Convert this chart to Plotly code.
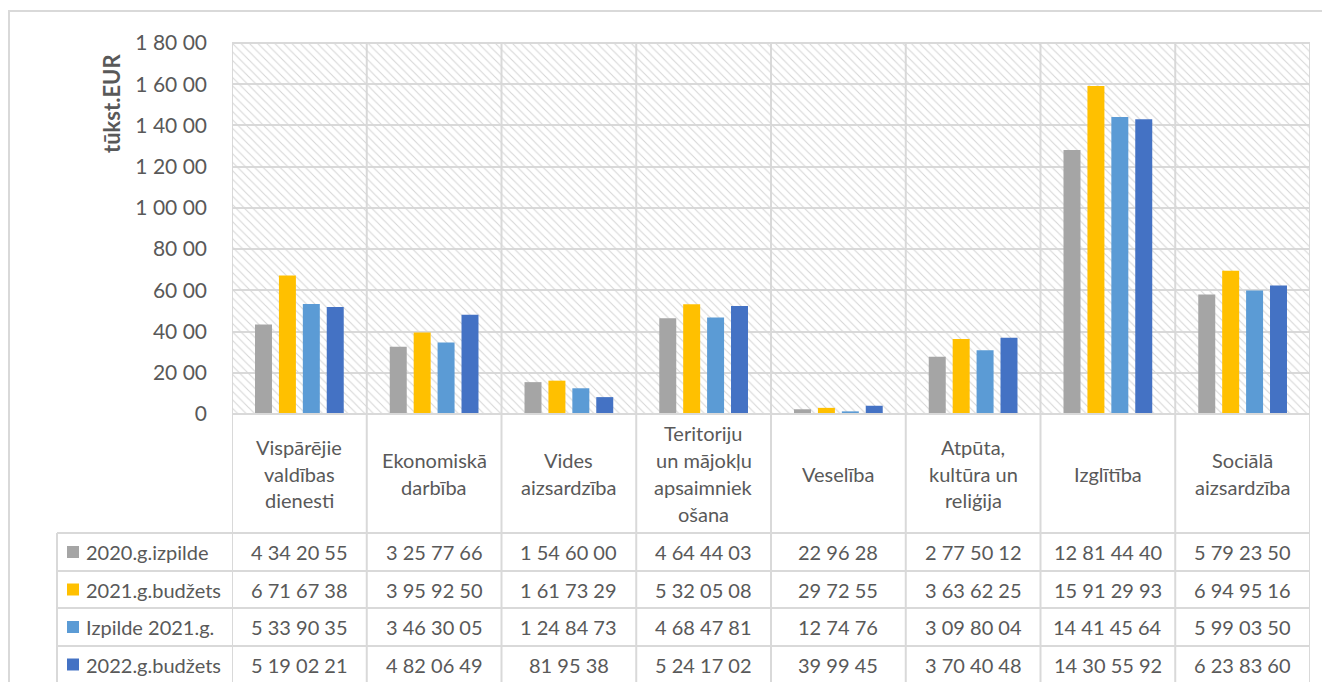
import plotly.graph_objects as go

# ---------------- data ----------------
categories = [
    ["Vispārējie", "valdības", "dienesti"],
    ["Ekonomiskā", "darbība"],
    ["Vides", "aizsardzība"],
    ["Teritoriju", "un mājokļu", "apsaimniek", "ošana"],
    ["Veselība"],
    ["Atpūta,", "kultūra un", "reliģija"],
    ["Izglītība"],
    ["Sociālā", "aizsardzība"],
]
series_names = ["2020.g.izpilde", "2021.g.budžets", "Izpilde 2021.g.", "2022.g.budžets"]
s2020_izpilde = [4342055, 3257766, 1546000, 4644403, 229628, 2775012, 12814440, 5792350]
s2021_budzets = [6716738, 3959250, 1617329, 5320508, 297255, 3636225, 15912993, 6949516]
s2021_izpilde = [5339035, 3463005, 1248473, 4684781, 127476, 3098004, 14414564, 5990350]
s2022_budzets = [5190221, 4820649, 819538, 5241702, 399945, 3704048, 14305592, 6238360]
series_values = [s2020_izpilde, s2021_budzets, s2021_izpilde, s2022_budzets]
y_ticks = [0, 2000000, 4000000, 6000000, 8000000, 10000000, 12000000, 14000000, 16000000, 18000000]
y_title = "tūkst.EUR"

# ---------------- style ----------------
colors = ["#A5A5A5", "#FFC000", "#5B9BD5", "#4472C4"]
TXT = "#595959"
GRID = "#D9D9D9"
FONT = "Lato"
FS = 20
OFF = 8  # page body margin
W, H = 1330 - 2 * OFF, 690 - 2 * OFF
# plot area in screen pixels -> figure pixels
PL, PR, PT, PB = 232 - OFF, 1310 - OFF, 43 - OFF, 414 - OFF


def fmt(n):
    s = str(int(round(n)))
    groups = []
    while len(s) > 2:
        groups.insert(0, s[-2:])
        s = s[:-2]
    groups.insert(0, s)
    return " ".join(groups)


def xp(px):  # screen px -> paper
    return (px - OFF - PL) / (PR - PL)


def yp(py):
    return (PB - (py - OFF)) / (PB - PT)


n = len(categories)
idx = list(range(n))

fig = go.Figure()

# hatched background on base axes
fig.add_trace(go.Bar(
    x=[0.5], y=[y_ticks[-1]], width=[1], xaxis="x", yaxis="y",
    marker=dict(color="rgba(0,0,0,0)", line=dict(width=0),
                pattern=dict(shape="\\", fgcolor="#D6D6D6", bgcolor="rgba(0,0,0,0)",
                             size=6, solidity=0.18, fillmode="replace")),
    hoverinfo="skip", showlegend=False,
))

for name, vals, c in zip(series_names, series_values, colors):
    fig.add_trace(go.Bar(
        x=idx, y=vals, name=name, xaxis="x2", yaxis="y2",
        marker=dict(color=c, line=dict(width=0)), showlegend=False,
    ))

shapes = []
# vertical boundaries (plot + table)
for k in range(n + 1):
    shapes.append(dict(type="line", xref="x2", yref="paper", x0=k - 0.5, x1=k - 0.5,
                       y0=yp(683), y1=1, line=dict(color=GRID, width=2), layer="below"))
# top border of plot
shapes.append(dict(type="line", xref="paper", yref="paper", x0=0, x1=1, y0=1, y1=1,
                   line=dict(color=GRID, width=2)))
# zero line
shapes.append(dict(type="line", xref="paper", yref="paper", x0=0, x1=1, y0=0, y1=0,
                   line=dict(color=GRID, width=2)))
# table
row_edges = [533, 571, 608, 646, 683]
for ry in row_edges:
    shapes.append(dict(type="line", xref="paper", yref="paper", x0=xp(57), x1=1,
                       y0=yp(ry), y1=yp(ry), line=dict(color=GRID, width=2)))
shapes.append(dict(type="line", xref="paper", yref="paper", x0=xp(57), x1=xp(57),
                   y0=yp(533), y1=yp(683), line=dict(color=GRID, width=2)))
# outer chart border
shapes.append(dict(type="rect", xref="paper", yref="paper", x0=xp(9), x1=xp(1345),
                   y0=yp(705), y1=yp(11), line=dict(color=GRID, width=2)))

annotations = []
# category labels
LINE_H = 27
cat_center = (414 + 533) / 2
for i, lines in enumerate(categories):
    top = cat_center - (len(lines) - 1) * LINE_H / 2
    for j, ln in enumerate(lines):
        annotations.append(dict(text=ln, xref="x2", yref="paper", x=i, y=yp(top + j * LINE_H),
                                showarrow=False, xanchor="center", yanchor="middle",
                                font=dict(family=FONT, size=FS, color=TXT)))
# table rows
for r, (name, vals, c) in enumerate(zip(series_names, series_values, colors)):
    cy = (row_edges[r] + row_edges[r + 1]) / 2
    shapes.append(dict(type="rect", xref="paper", yref="paper", x0=xp(67), x1=xp(79),
                       y0=yp(cy + 6), y1=yp(cy - 6), fillcolor=c, line=dict(width=0)))
    annotations.append(dict(text=name, xref="paper", yref="paper", x=xp(84), y=yp(cy),
                            showarrow=False, xanchor="left", yanchor="middle",
                            font=dict(family=FONT, size=FS, color=TXT)))
    for i, v in enumerate(vals):
        annotations.append(dict(text=fmt(v), xref="x2", yref="paper", x=i, y=yp(cy),
                                showarrow=False, xanchor="center", yanchor="middle",
                                font=dict(family=FONT, size=FS, color=TXT)))
# y title
annotations.append(dict(text="<b>" + y_title + "</b>", xref="paper", yref="paper",
                        x=xp(111), y=yp(104), textangle=-90, showarrow=False,
                        xanchor="center", yanchor="middle",
                        font=dict(family=FONT, size=22, color=TXT)))

fig.update_layout(
    width=W, height=H,
    margin=dict(l=PL, r=W - PR, t=PT, b=H - PB, pad=0),
    paper_bgcolor="white", plot_bgcolor="white",
    barmode="group", bargap=0.29, bargroupgap=0.29,
    showlegend=False, hovermode=False,
    xaxis=dict(range=[0, 1], visible=False, fixedrange=True),
    yaxis=dict(range=[0, y_ticks[-1]], tickvals=y_ticks,
               ticktext=[fmt(t / 1000) for t in y_ticks],
               showgrid=True, gridcolor=GRID, gridwidth=2, zeroline=False,
               showline=False, ticks="", ticklabelstandoff=24,
               tickfont=dict(family=FONT, size=21, color=TXT), fixedrange=True),
    xaxis2=dict(overlaying="x", range=[-0.5, n - 0.5], visible=False, fixedrange=True),
    yaxis2=dict(overlaying="y", range=[0, y_ticks[-1]], visible=False, fixedrange=True),
    shapes=shapes, annotations=annotations,
)

fig.write_html("out.html")
